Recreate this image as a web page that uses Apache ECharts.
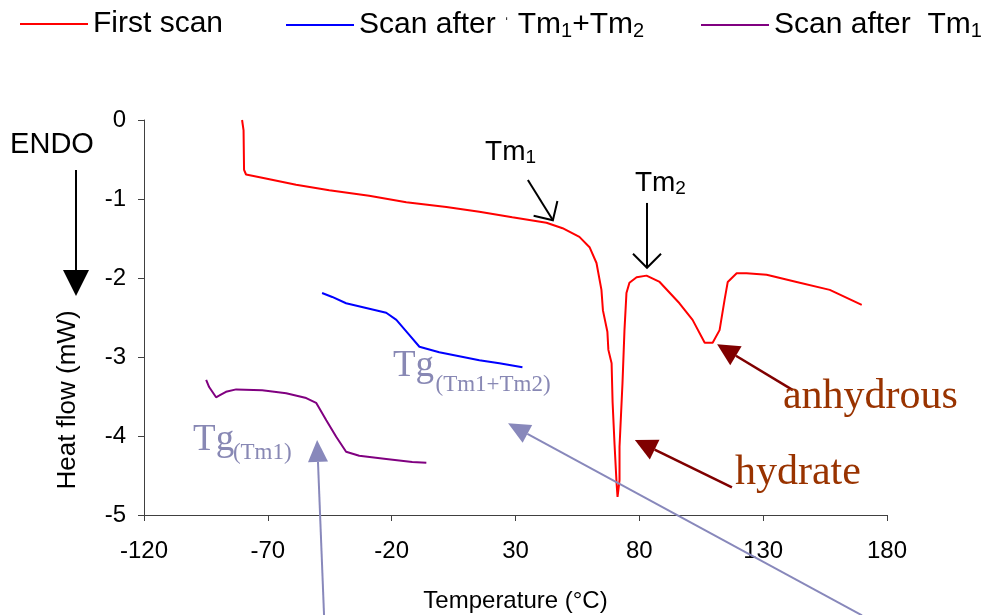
<!DOCTYPE html>
<html>
<head>
<meta charset="utf-8">
<script src="https://cdn.jsdelivr.net/npm/echarts@6/dist/echarts.min.js"></script>
<style>
  html, body { margin: 0; padding: 0; background: #fff; }
  #chart { width: 982px; height: 615px; }
</style>
</head>
<body>
<div id="chart"></div>
<script>
// First scan (red)
var firstScanT = [-80.4, -79.8, -79.6, -78.8, -72.3, -58.6, -45.2, -29.1, -14.1, 2.1, 15.4, 28.7, 42.5, 49.0,
  55.8, 59.9, 62.7, 64.7, 65.3, 67.1, 67.5, 68.8, 69.2, 70.0, 70.8, 71.2, 72.0, 72.0, 73.2, 74.0, 74.8,
  76.0, 78.9, 82.9, 88.2, 96.2, 101.5, 106.4, 109.6, 112.4, 114.4, 115.7, 119.3, 123.3, 131.4, 143.5, 156.9, 169.8]
var firstScanH = [0, -0.13, -0.63, -0.69, -0.73, -0.82, -0.89, -0.96, -1.04, -1.10, -1.16, -1.23, -1.30, -1.37,
  -1.48, -1.61, -1.81, -2.15, -2.41, -2.68, -2.91, -3.08, -3.57, -4.11, -4.59, -4.77, -4.56, -4.14, -3.33, -2.66, -2.19,
  -2.06, -1.99, -1.97, -2.05, -2.32, -2.53, -2.82, -2.82, -2.66, -2.28, -2.05, -1.94, -1.94, -1.96, -2.05, -2.15, -2.34]

// Scan after Tm1+Tm2 (blue)
var scanBothT = [-48.1, -44.0, -38.4, -30.3, -22.2, -18.1, -12.9, -8.8, -0.8, 7.3, 15.4, 23.5, 32.8]
var scanBothH = [-2.19, -2.24, -2.32, -2.38, -2.44, -2.53, -2.72, -2.87, -2.94, -2.99, -3.04, -3.08, -3.13]

// Scan after Tm1 (purple)
var scanTm1T = [-94.9, -93.7, -90.9, -89.7, -86.9, -82.8, -72.3, -62.6, -54.5, -50.5, -46.4, -42.4, -38.4, -33.1, -22.2, -11.7, -6.0]
var scanTm1H = [-3.29, -3.38, -3.51, -3.49, -3.44, -3.41, -3.42, -3.46, -3.52, -3.58, -3.80, -4.01, -4.20, -4.25, -4.29, -4.33, -4.34]

var seriesNames = ['First scan', 'Scan after Tm1+Tm2', 'Scan after Tm1']
var seriesColors = ['#ff0000', '#0000ff', '#800080']

function zip(xs, ys) {
  return xs.map(function (x, i) { return [x, ys[i]] })
}

var SANS = 'Liberation Sans, Arial, sans-serif'
var SERIF = 'Liberation Serif, Times New Roman, serif'

var chart = echarts.init(document.getElementById('chart'), null, { renderer: 'canvas' })

var legendRich = {
  t: { fontSize: 30, lineHeight: 36, fontFamily: SANS, color: '#000' },
  s: { fontSize: 20, lineHeight: 24, padding: [12, 0, 0, 0], fontFamily: SANS, color: '#000' },
  q: { fontSize: 16, lineHeight: 36, fontFamily: SANS, color: '#000' }
}
var legendText = {
  'First scan': '{t|First scan}',
  'Scan after Tm1+Tm2': '{t|Scan after }{q|ˈ}{t| Tm}{s|1}{t|+Tm}{s|2}',
  'Scan after Tm1': '{t|Scan after  Tm}{s|1}'
}
function makeLegend(name, left) {
  return {
    data: [name],
    left: left,
    top: 9,
    padding: 0,
    icon: 'rect',
    itemWidth: 68,
    itemHeight: 2,
    selectedMode: false,
    formatter: function (n) { return legendText[n] },
    textStyle: { rich: legendRich, fontSize: 30, fontFamily: SANS, color: '#000' }
  }
}

var option = {
  animation: false,
  backgroundColor: '#fff',
  legend: [
    makeLegend(seriesNames[0], 20),
    makeLegend(seriesNames[1], 286),
    makeLegend(seriesNames[2], 701)
  ],
  grid: { left: 144, right: 95, top: 120, bottom: 100, outerBoundsMode: 'none' },
  xAxis: {
    type: 'value',
    position: 'bottom',
    min: -120,
    max: 180,
    interval: 50,
    name: 'Temperature (°C)',
    nameLocation: 'middle',
    nameGap: 74,
    nameTextStyle: { fontSize: 24, fontFamily: SANS, color: '#000' },
    axisLine: { onZero: false, lineStyle: { color: '#404040', width: 1 } },
    axisTick: { show: true, length: 6, lineStyle: { color: '#404040' } },
    axisLabel: { fontSize: 24, fontFamily: SANS, color: '#000', margin: 24 },
    splitLine: { show: false }
  },
  yAxis: {
    type: 'value',
    position: 'left',
    min: -5,
    max: 0,
    interval: 1,
    axisLine: { show: true, onZero: false, lineStyle: { color: '#404040', width: 1 } },
    axisTick: { show: true, length: 6, lineStyle: { color: '#404040' } },
    axisLabel: { fontSize: 24, fontFamily: SANS, color: '#000', margin: 18 },
    splitLine: { show: false }
  },
  series: [
    { name: seriesNames[0], data: zip(firstScanT, firstScanH) },
    { name: seriesNames[1], data: zip(scanBothT, scanBothH) },
    { name: seriesNames[2], data: zip(scanTm1T, scanTm1H) }
  ].map(function (s, i) {
    return {
      name: s.name,
      type: 'line',
      data: s.data,
      symbol: 'none',
      showSymbol: false,
      color: seriesColors[i],
      lineStyle: { color: seriesColors[i], width: 2 },
      z: 2
    }
  })
}
chart.setOption(option)

// annotations ------------------------------------------------------------
function px(p) {
  return chart.convertToPixel({ gridIndex: 0 }, p)
}

function arrow(a, b, color, lw, kind, len, wid) {
  var dx = b[0] - a[0], dy = b[1] - a[1]
  var d = Math.sqrt(dx * dx + dy * dy)
  var ux = dx / d, uy = dy / d, nx = -uy, ny = ux
  var bx = b[0] - ux * len, by = b[1] - uy * len
  var out = []
  if (kind === 'open') {
    out.push({ type: 'line', z: 50, shape: { x1: a[0], y1: a[1], x2: b[0], y2: b[1] }, style: { stroke: color, lineWidth: lw } })
    out.push({
      type: 'polyline', z: 50,
      shape: { points: [[bx + nx * len, by + ny * len], [b[0], b[1]], [bx - nx * len, by - ny * len]] },
      style: { stroke: color, lineWidth: lw, fill: null }
    })
  } else {
    out.push({ type: 'line', z: 50, shape: { x1: a[0], y1: a[1], x2: bx, y2: by }, style: { stroke: color, lineWidth: lw } })
    out.push({
      type: 'polygon', z: 50,
      shape: { points: [[b[0], b[1]], [bx + nx * wid / 2, by + ny * wid / 2], [bx - nx * wid / 2, by - ny * wid / 2]] },
      style: { fill: color }
    })
  }
  return out
}

function label(p, text, size, family, color, rich) {
  var style = {
    text: text, fontSize: size, fontFamily: family, fill: color,
    align: 'left', verticalAlign: 'middle'
  }
  if (rich) style.rich = rich
  return { type: 'text', z: 60, x: p[0], y: p[1], style: style }
}

var tmRich = {
  a: { fontSize: 28, lineHeight: 34, fontFamily: SANS, color: '#000' },
  s: { fontSize: 19, lineHeight: 24, padding: [11, 0, 0, 0], fontFamily: SANS, color: '#000' }
}

var TG_COLOR = '#8888b4'
var ARROW_GRAY = '#8888bb'
var DARK_RED = '#800000'
var BROWN = '#993300'

var g = []
// ENDO marker (left margin)
g.push({ type: 'text', z: 60, x: 52, y: 145, style: { text: 'ENDO', fontSize: 29, fontFamily: SANS, fill: '#000', align: 'center', verticalAlign: 'middle' } })
g = g.concat(arrow([76, 170], [76, 296], '#000', 2, 'filled', 26, 26))

// y axis name
g.push({
  type: 'text', z: 60, x: 68, y: 400, rotation: Math.PI / 2,
  style: { text: 'Heat flow (mW)', fontSize: 26, fontFamily: SANS, fill: '#000', align: 'center', verticalAlign: 'middle' }
})

// Tm1 / Tm2
g.push(label(px([17.7, -0.405]), '{a|Tm}{s|1}', 28, SANS, '#000', tmRich))
g = g.concat(arrow(px([35.0, -0.76]), px([45.1, -1.27]), '#000', 2, 'open', 14))
g.push(label(px([78.2, -0.80]), '{a|Tm}{s|2}', 28, SANS, '#000', tmRich))
g = g.concat(arrow(px([83.1, -1.05]), px([83.1, -1.87]), '#000', 2, 'open', 14))

// anhydrous / hydrate
g.push(label(px([138.0, -3.51]), 'anhydrous', 42, SERIF, BROWN))
g = g.concat(arrow(px([142.0, -3.42]), px([111.4, -2.84]), DARK_RED, 2.5, 'filled', 22, 22))
g.push(label(px([118.6, -4.47]), 'hydrate', 42, SERIF, BROWN))
g = g.concat(arrow(px([117.4, -4.65]), px([78.2, -4.05]), DARK_RED, 2.5, 'filled', 22, 22))

// Tg labels
g.push(label(px([-19.5, -3.12]), 'Tg', 37, SERIF, TG_COLOR))
g.push(label(px([-2.3, -3.35]), '(Tm1+Tm2)', 23, SERIF, TG_COLOR))
g.push(label(px([-100.2, -4.05]), 'Tg', 37, SERIF, TG_COLOR))
g.push(label(px([-84.1, -4.22]), '(Tm1)', 23, SERIF, TG_COLOR))
g = g.concat(arrow(px([-47.3, -6.27]), px([-50.1, -4.05]), ARROW_GRAY, 2, 'filled', 22, 20))
g = g.concat(arrow(px([169.9, -6.27]), px([27.0, -3.84]), ARROW_GRAY, 2, 'filled', 22, 20))

chart.setOption({ graphic: g })
</script>
</body>
</html>
